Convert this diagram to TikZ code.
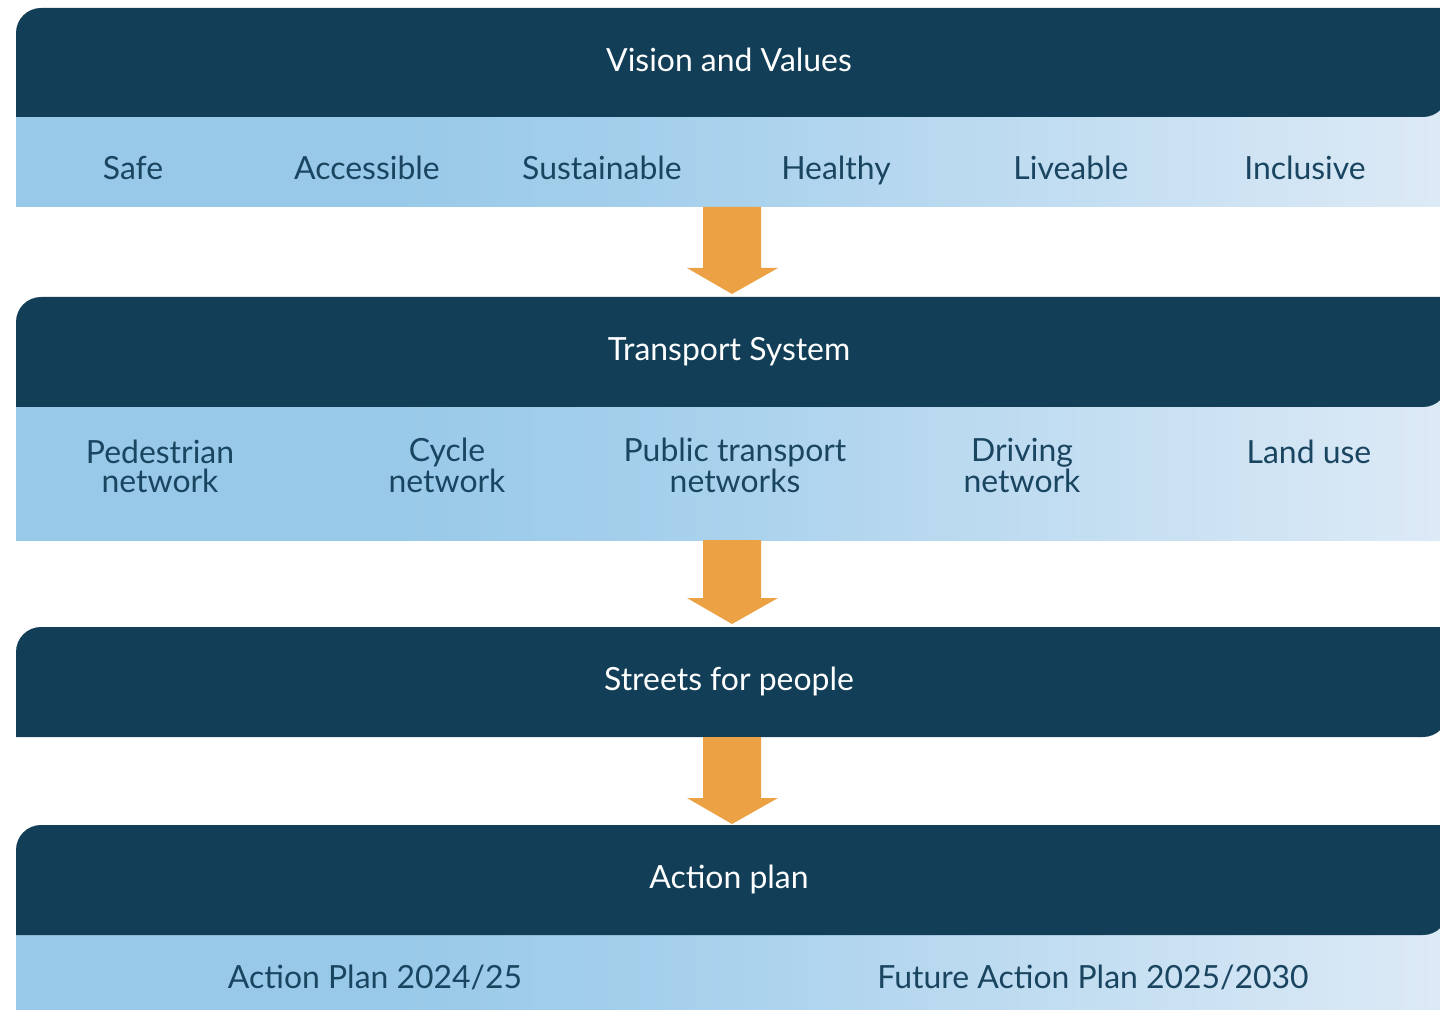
\documentclass[tikz,border=0pt]{standalone}
\usepackage{fontspec}
\setmainfont{Lato}
\usetikzlibrary{calc}
\definecolor{darkc}{HTML}{123F57}
\definecolor{lbA}{HTML}{98C9E8}
\definecolor{lbB}{HTML}{A6D0EC}
\definecolor{lbC}{HTML}{DDEAF6}
\definecolor{arrowc}{HTML}{ECA244}
\definecolor{txtc}{HTML}{1A4560}
\pgfdeclarehorizontalshading{bandshade}{100bp}{color(0bp)=(lbA); color(25bp)=(lbA); color(38bp)=(lbA); color(48bp)=(lbB); color(75bp)=(lbC); color(100bp)=(lbC)}
\tikzset{
  title/.style={text=white, anchor=base, inner sep=0pt, font=\fontsize{22.7}{26}\selectfont},
  item/.style={text=txtc, anchor=base, inner sep=0pt, align=center, font=\fontsize{22.7}{20.6}\selectfont},
  lightband/.style={shading=bandshade},
  darkband/.style={fill=darkc},
  blockarrow/.style={fill=arrowc}
}
\newcommand\mydarkband[2]{% top, bottom (negative y)
  \fill[darkband] (16,#2) -- (16,#1-25) arc[start angle=180,end angle=90,radius=25] -- (1448,#1) -- (1448,#2+25) arc[start angle=0,end angle=-90,radius=25] -- cycle;}
\newcommand\myblockarrow[2]{% start coordinate, tip coordinate
  \fill[blockarrow] ($(#1)+(-29,0)$) -- ($(#1)+(29,0)$) -- ($(#2)+(29,26)$) -- ($(#2)+(46,26)$) -- (#2) -- ($(#2)+(-45,26)$) -- ($(#2)+(-29,26)$) -- cycle;}
\begin{document}
\begin{tikzpicture}[x=0.025cm,y=0.025cm]
\useasboundingbox (0,0) rectangle (1440,-1010);
\begin{scope}
\clip (0,0) rectangle (1440,-1010);
% light bands
\path[lightband] (16,-90) rectangle (1448,-207);
\path[lightband] (16,-380) rectangle (1448,-540);
\path[lightband] (16,-908) rectangle (1448,-1010);
% dark bands
\mydarkband{-8}{-117}
\mydarkband{-297}{-407}
\mydarkband{-627}{-737}
\mydarkband{-825}{-935}
\end{scope}
% arrow endpoints
\coordinate (a1s) at (732,-207); \coordinate (a1e) at (732,-294);
\coordinate (a2s) at (732,-540); \coordinate (a2e) at (732,-624);
\coordinate (a3s) at (732,-737); \coordinate (a3e) at (732,-824);
\myblockarrow{a1s}{a1e}
\myblockarrow{a2s}{a2e}
\myblockarrow{a3s}{a3e}
% titles
\node[title] (t1) at (729,-72) {Vision and Values};
\node[title] (t2) at (729,-361) {Transport System};
\node[title] (t3) at (729,-690) {Streets for people};
\node[title] (t4) at (729,-888) {Action plan};
% row 1
\node[item] (v1) at (133,-180) {Safe};
\node[item] (v2) at (367,-180) {Accessible};
\node[item] (v3) at (602,-180) {Sustainable};
\node[item] (v4) at (836,-180) {Healthy};
\node[item] (v5) at (1071,-180) {Liveable};
\node[item] (v6) at (1305,-180) {Inclusive};
% row 2 (base anchor = last line)
\node[item] (s1) at (160,-492) {Pedestrian\\network};
\node[item] (s2) at (447,-492) {Cycle\\network};
\node[item] (s3) at (735,-492) {Public transport\\networks};
\node[item] (s4) at (1022,-492) {Driving\\network};
\node[item] (s5) at (1309,-463) {Land use};
% row 4
\node[item] (p1) at (375,-988) {Action Plan 2024/25};
\node[item] (p2) at (1093,-988) {Future Action Plan 2025/2030};
\end{tikzpicture}
\end{document}
